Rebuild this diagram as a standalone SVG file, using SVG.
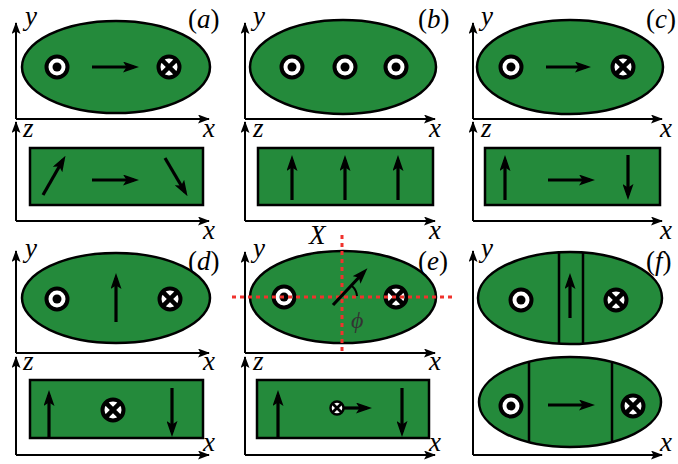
<svg xmlns="http://www.w3.org/2000/svg" xmlns:xlink="http://www.w3.org/1999/xlink" width="678" height="464" viewBox="0 0 678 464">
<style>
.ax{stroke:#000;stroke-width:2;fill:none;marker-end:url(#axh)}
.sh{fill:#248a3b;stroke:#000;stroke-width:2.5}
.ar{stroke:#000;stroke-width:3.2;fill:none;marker-end:url(#ah)}
.dw{stroke:#000;stroke-width:2.5}
.lb{font-family:"Liberation Serif","DejaVu Serif",serif;font-style:italic;font-size:27px;fill:#000}
.up{font-style:normal}
.red{stroke:#f0322d;stroke-width:3;stroke-dasharray:4 4;fill:none}
</style>
<defs>
<marker id="axh" viewBox="0 0 12 9" refX="11" refY="4.5" markerWidth="12" markerHeight="9" markerUnits="userSpaceOnUse" orient="auto"><path d="M0,0 L12,4.5 L0,9 L2.5,4.5 z" fill="#000"/></marker>
<marker id="ah" viewBox="0 0 16 11" refX="11" refY="5.5" markerWidth="16" markerHeight="11" markerUnits="userSpaceOnUse" orient="auto"><path d="M0,0 L16,5.5 L0,11 L3.5,5.5 z" fill="#000"/></marker>
<g id="dot"><circle r="10.5" fill="#fff" stroke="#000" stroke-width="4"/><circle r="4.5" fill="#000"/></g>
<g id="cross"><circle r="10.5" fill="#fff" stroke="#000" stroke-width="4"/><path d="M-7.4,-7.4 L7.4,7.4 M-7.4,7.4 L7.4,-7.4" stroke="#000" stroke-width="4.5"/></g>
</defs>

<g id="panel-a">
<path class="ax" d="M16,119 V23"/><path class="ax" d="M16,119 H209"/>
<ellipse class="sh" cx="116" cy="67" rx="94" ry="46"/>
<use xlink:href="#dot" x="57" y="67"/><use xlink:href="#cross" x="169" y="67"/>
<path class="ar" d="M92,67 H134"/>
<path class="ax" d="M16,221 V122"/><path class="ax" d="M16,221 H209"/>
<rect class="sh" x="30" y="148" width="173" height="57"/>
<path class="ar" d="M43,195 L63,160"/><path class="ar" d="M92,180 H134"/><path class="ar" d="M165,158 L185,192"/>
<text class="lb" x="25" y="25">y</text><text class="lb" x="188" y="28"><tspan class="up">(</tspan>a<tspan class="up">)</tspan></text>
<text class="lb" x="203" y="137">x</text><text class="lb" x="23" y="137">z</text><text class="lb" x="203" y="239">x</text>
</g>

<g id="panel-b">
<path class="ax" d="M245,119 V23"/><path class="ax" d="M245,119 H435"/>
<ellipse class="sh" cx="343" cy="67" rx="93" ry="47"/>
<use xlink:href="#dot" x="292" y="67"/><use xlink:href="#dot" x="345" y="67"/><use xlink:href="#dot" x="396" y="67"/>
<path class="ax" d="M245,221 V122"/><path class="ax" d="M245,221 H435"/>
<rect class="sh" x="258" y="148" width="175" height="57"/>
<path class="ar" d="M292,200 V160"/><path class="ar" d="M345,200 V160"/><path class="ar" d="M398,200 V160"/>
<text class="lb" x="253" y="25">y</text><text class="lb" x="418" y="28"><tspan class="up">(</tspan>b<tspan class="up">)</tspan></text>
<text class="lb" x="429" y="137">x</text><text class="lb" x="253" y="137">z</text><text class="lb" x="429" y="239">x</text>
</g>

<g id="panel-c">
<path class="ax" d="M473,119 V23"/><path class="ax" d="M473,119 H662"/>
<ellipse class="sh" cx="570" cy="67" rx="93" ry="47"/>
<use xlink:href="#dot" x="511" y="67"/><use xlink:href="#cross" x="623" y="67"/>
<path class="ar" d="M546,67 H586"/>
<path class="ax" d="M473,221 V122"/><path class="ax" d="M473,221 H662"/>
<rect class="sh" x="485" y="148" width="175" height="57"/>
<path class="ar" d="M505,200 V160"/><path class="ar" d="M548,180 H590"/><path class="ar" d="M628,155 V195"/>
<text class="lb" x="481" y="25">y</text><text class="lb" x="646" y="28"><tspan class="up">(</tspan>c<tspan class="up">)</tspan></text>
<text class="lb" x="660" y="137">x</text><text class="lb" x="481" y="137">z</text><text class="lb" x="660" y="239">x</text>
</g>

<g id="panel-d">
<path class="ax" d="M16,353 V251"/><path class="ax" d="M16,353 H209"/>
<ellipse class="sh" cx="116" cy="298" rx="94" ry="45"/>
<use xlink:href="#dot" x="57" y="299"/><use xlink:href="#cross" x="170" y="299"/>
<path class="ar" d="M116,322 V278"/>
<path class="ax" d="M16,455 V357"/><path class="ax" d="M16,455 H209"/>
<rect class="sh" x="30" y="380" width="173" height="58"/>
<path class="ar" d="M49,437 V395"/><use xlink:href="#cross" x="113" y="410"/><path class="ar" d="M172,388 V432"/>
<text class="lb" x="25" y="257">y</text><text class="lb" x="188" y="270"><tspan class="up">(</tspan>d<tspan class="up">)</tspan></text>
<text class="lb" x="203" y="370">x</text><text class="lb" x="23" y="370">z</text><text class="lb" x="203" y="451">x</text>
</g>

<g id="panel-e">
<path class="ax" d="M245,353 V252"/><path class="ax" d="M245,353 H435"/>
<ellipse class="sh" cx="343" cy="297" rx="93" ry="46"/>
<use xlink:href="#dot" x="284" y="297"/><use xlink:href="#cross" x="396" y="297"/>
<path class="red" d="M342,235 V353"/><path class="red" d="M232,297 H455"/>
<path class="ar" d="M333,305 L364,272"/>
<path d="M352,286 A15,15 0 0 1 357,296" stroke="#000" stroke-width="2" fill="none"/>
<text class="lb" x="351" y="328" style="fill:#333;font-size:24px">ϕ</text>
<text class="lb" x="309" y="244">X</text>
<path class="ax" d="M245,455 V357"/><path class="ax" d="M245,455 H435"/>
<rect class="sh" x="257" y="380" width="172" height="58"/>
<path class="ar" d="M278,437 V395"/>
<use xlink:href="#cross" transform="translate(337,408) scale(0.62)"/>
<path class="ar" d="M344,408 H367"/>
<path class="ar" d="M402,388 V432"/>
<text class="lb" x="253" y="257">y</text><text class="lb" x="418" y="270"><tspan class="up">(</tspan>e<tspan class="up">)</tspan></text>
<text class="lb" x="429" y="370">x</text><text class="lb" x="253" y="370">z</text><text class="lb" x="429" y="451">x</text>
</g>

<g id="panel-f">
<path class="ax" d="M473,455 V251"/><path class="ax" d="M473,455 H662"/>
<ellipse class="sh" cx="570" cy="298" rx="92" ry="46"/>
<path class="dw" d="M559,252.4 V343.6 M583,252.5 V343.5"/>
<use xlink:href="#dot" x="521" y="300"/><use xlink:href="#cross" x="616" y="300"/>
<path class="ar" d="M570,318 V278"/>
<ellipse class="sh" cx="570" cy="402" rx="91" ry="45"/>
<path class="dw" d="M529,361.8 V442.2 M612,362.1 V441.9"/>
<use xlink:href="#dot" x="511" y="406"/><use xlink:href="#cross" x="633" y="406"/>
<path class="ar" d="M548,405 H590"/>
<text class="lb" x="481" y="257">y</text><text class="lb" x="646" y="270"><tspan class="up">(</tspan>f<tspan class="up">)</tspan></text>
<text class="lb" x="660" y="451">x</text>
</g>
</svg>
